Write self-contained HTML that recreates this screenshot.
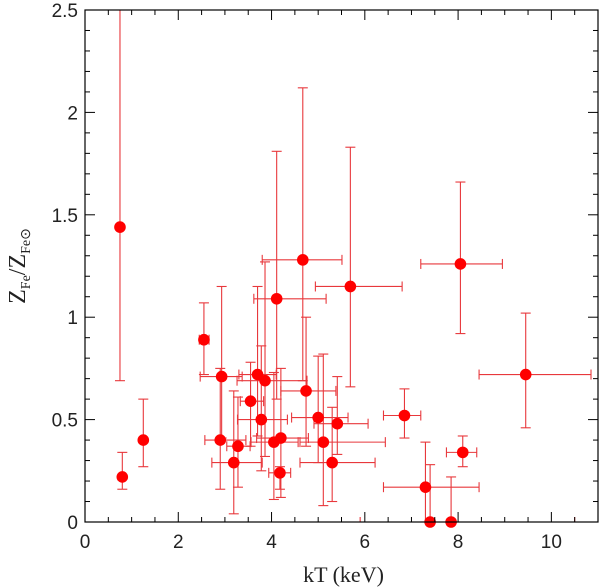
<!DOCTYPE html>
<html><head><meta charset="utf-8"><style>
html,body{margin:0;padding:0;background:#fff;}
svg{display:block;font-family:"Liberation Sans",sans-serif;}
</style></head><body>
<svg id="chart" width="600" height="587" viewBox="0 0 600 587"></svg>
<script>
const kT  =[0.75,0.8,1.25,2.55,2.93,2.90,3.70,3.86,4.11,4.67,5.69,3.55,3.78,3.28,3.19,4.05,4.20,4.18,4.74,5.00,5.11,5.30,5.41,6.85,8.05,9.45,8.10,7.30,7.40,7.85];
const kTlo=[0.75,0.8,1.2,2.45,2.47,2.57,3.30,3.26,3.62,3.80,4.94,3.33,3.27,3.04,2.72,3.56,3.68,3.94,4.20,4.43,4.61,4.61,4.91,6.40,7.20,8.45,7.75,6.40,5.90,7.80];
const kThi=[0.75,0.8,1.3,2.66,3.37,3.45,4.10,4.76,5.17,5.51,6.80,3.83,4.34,3.54,3.80,4.57,4.79,4.41,5.38,5.64,6.44,6.22,6.07,7.20,8.95,10.85,8.40,8.45,10.50,7.90];
const zfe =[1.44,0.22,0.40,0.89,0.71,0.40,0.72,0.69,1.09,1.28,1.15,0.59,0.50,0.37,0.29,0.39,0.41,0.24,0.64,0.51,0.39,0.29,0.48,0.52,1.26,0.72,0.34,0.17,0.0,0.0];
const zlo =[0.69,0.16,0.27,0.72,0.41,0.16,0.42,0.32,0.60,0.69,0.66,0.37,0.25,0.17,0.04,0.11,0.12,0.16,0.37,0.29,0.08,0.10,0.33,0.41,0.92,0.46,0.27,0.0,0.0,0.0];
const zhi =[2.6,0.34,0.60,1.07,1.15,0.75,1.15,1.27,1.81,2.12,1.83,0.78,0.86,0.61,0.64,0.73,0.75,0.27,1.00,0.81,0.82,0.56,0.71,0.65,1.66,1.02,0.42,0.39,0.28,0.22];
const xTicks=[0,2,4,6,8,10];
const yTicks=[0,0.5,1,1.5,2,2.5];
const yTickLabels=["0","0.5","1","1.5","2","2.5"];

const L=85,R=598,T=10,B=522,XMAX=11.0,YMAX=2.5;
const X=v=>L+(v/XMAX)*(R-L);
const Y=v=>B-(v/YMAX)*(B-T);
const svg=document.getElementById('chart');
const NS='http://www.w3.org/2000/svg';
function mk(tag,at,parent){const e=document.createElementNS(NS,tag);for(const k in at)e.setAttribute(k,at[k]);(parent||svg).appendChild(e);return e;}

const clip=mk('clipPath',{id:'pc'});mk('rect',{x:L,y:T,width:R-L,height:B-T},clip);
const gErr=mk('g',{'clip-path':'url(#pc)'});


const gPts=mk('g',{});


const ec='#e8383c';
for(let i=0;i<kT.length;i++){
  const st={stroke:ec,'stroke-width':1.1,fill:'none'};
  const cx=X(kT[i]),cy=Y(zfe[i]);
  const g=mk('g',{},gErr);
  
  
  mk('line',Object.assign({x1:cx,x2:cx,y1:Y(zlo[i]),y2:Y(zhi[i])},st),g);
  mk('line',Object.assign({x1:cx-5,x2:cx+5,y1:Y(zlo[i]),y2:Y(zlo[i])},st),g);
  mk('line',Object.assign({x1:cx-5,x2:cx+5,y1:Y(zhi[i]),y2:Y(zhi[i])},st),g);
  if(kThi[i]-kTlo[i]>0.02){
    mk('line',Object.assign({x1:X(kTlo[i]),x2:X(kThi[i]),y1:cy,y2:cy},st),g);
    mk('line',Object.assign({x1:X(kTlo[i]),x2:X(kTlo[i]),y1:cy-5,y2:cy+5},st),g);
    mk('line',Object.assign({x1:X(kThi[i]),x2:X(kThi[i]),y1:cy-5,y2:cy+5},st),g);
  }
  const c=mk('circle',{cx:cx,cy:cy,r:5.8,fill:'#f00'},gPts);
  
  
}
const fr=mk('rect',{x:L,y:T,width:R-L,height:B-T,fill:'none',stroke:'#000','stroke-width':1.2});


const gt=mk('g',{stroke:'#000','stroke-width':1});


for(let v=0;v<=XMAX+1e-6;v+=0.5){
  const len=(Math.abs(v%2)<1e-6)?10:5;const x=X(v);
  mk('line',{x1:x,x2:x,y1:B,y2:B-len},gt);mk('line',{x1:x,x2:x,y1:T,y2:T+len},gt);
}
for(let k=0;k<=25;k++){
  const v=k/10;const len=(k%5===0)?10:5;const y=Y(v);
  mk('line',{x1:L,x2:L+len,y1:y,y2:y},gt);mk('line',{x1:R,x2:R-len,y1:y,y2:y},gt);
}
xTicks.forEach(v=>{const t=mk('text',{x:X(v),y:B+26,'text-anchor':'middle','font-size':19,fill:'#222'});t.textContent=String(v);

});
yTicks.forEach((v,i)=>{const t=mk('text',{x:L-7,y:Y(v)+7,'text-anchor':'end','font-size':19,fill:'#222'});t.textContent=yTickLabels[i];

});
const xt=mk('text',{x:(L+R)/2+2,y:582,'text-anchor':'middle','font-size':22,fill:'#222','font-family':'Liberation Serif, serif'});
xt.textContent='kT (keV)';


const yt=mk('text',{transform:'translate(25,266) rotate(-90)','text-anchor':'middle','font-size':24,fill:'#222','font-family':'Liberation Serif, serif'});
yt.innerHTML='Z<tspan font-size="14" dy="5">Fe</tspan><tspan dy="-5">/Z</tspan><tspan font-size="14" dy="5">Fe⊙</tspan>';


</script>
</body></html>
